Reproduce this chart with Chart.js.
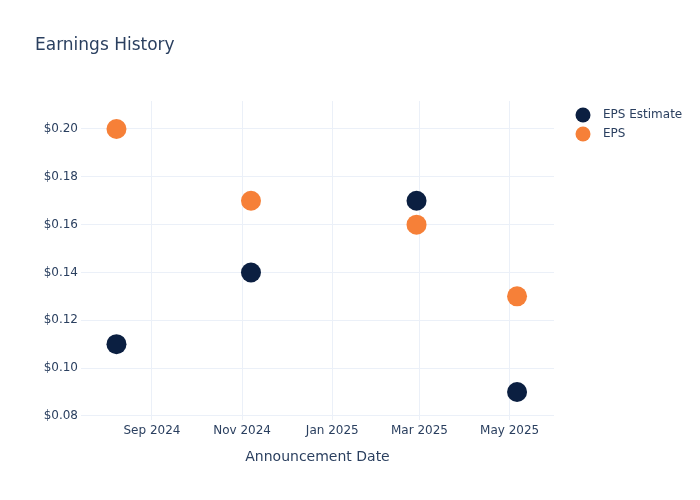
<!DOCTYPE html>
<html>
<head>
<meta charset="utf-8">
<script src="https://cdn.jsdelivr.net/npm/chart.js@4"></script>
<style>
  html, body { margin: 0; padding: 0; background: #fff; }
  #wrap { width: 700px; height: 500px; }
</style>
</head>
<body>
<div id="wrap"><canvas id="earnings-chart"></canvas></div>
<script>
// EARNINGS HISTORY (scatter)
const announceDates = ['2024-08-08', '2024-11-07', '2025-02-27', '2025-05-06'];
const epsEstimate = [0.11, 0.14, 0.17, 0.09];
const epsActual = [0.20, 0.17, 0.16, 0.13];
const xTickDates = ['2024-09-01', '2024-11-01', '2025-01-01', '2025-03-01', '2025-05-01'];
const yTickValues = [0.08, 0.10, 0.12, 0.14, 0.16, 0.18, 0.20];
const monthNames = ['Jan', 'Feb', 'Mar', 'Apr', 'May', 'Jun', 'Jul', 'Aug', 'Sep', 'Oct', 'Nov', 'Dec'];

const toTime = s => Date.parse(s + 'T00:00:00Z');
const textColor = '#2a3f5f';
const gridColor = '#ebf0f8';
const fontFamily = '"DejaVu Sans", Verdana, sans-serif';

const points = vals => announceDates.map((d, i) => ({ x: toTime(d), y: vals[i] }));

// plotly-like title + legend drawn on the canvas
const overlay = {
    id: 'overlay',
    afterDraw(chart) {
        const ctx = chart.ctx;
        ctx.save();
        ctx.fillStyle = textColor;
        ctx.font = '17px ' + fontFamily;
        ctx.textBaseline = 'middle';
        ctx.textAlign = 'left';
        ctx.fillText('Earnings History', 35, 45.5);

        ctx.font = '12px ' + fontFamily;
        chart.data.datasets.forEach((ds, i) => {
            const y = 115 + i * 19;
            ctx.beginPath();
            ctx.arc(583, y, 7.5, 0, Math.PI * 2);
            ctx.fillStyle = ds.backgroundColor;
            ctx.fill();
            ctx.fillStyle = textColor;
            ctx.fillText(ds.label, 603, y);
        });
        ctx.restore();
    }
};

const ctx = document.getElementById('earnings-chart').getContext('2d');

new Chart(ctx, {
    type: 'scatter',
    data: {
        datasets: [{
            label: 'EPS Estimate',
            data: points(epsEstimate),
            backgroundColor: '#0b1f41',
            borderColor: '#0b1f41',
            borderWidth: 0,
            pointRadius: 10,
            pointHoverRadius: 10
        }, {
            label: 'EPS',
            data: points(epsActual),
            backgroundColor: '#f68038',
            borderColor: '#f68038',
            borderWidth: 0,
            pointRadius: 10,
            pointHoverRadius: 10
        }]
    },
    options: {
        responsive: true,
        maintainAspectRatio: false,
        animation: false,
        layout: { padding: { left: 0, right: 146, top: 101, bottom: 0 } },
        plugins: {
            legend: { display: false },
            title: { display: false },
            tooltip: { enabled: false }
        },
        scales: {
            x: {
                type: 'linear',
                min: toTime('2024-07-15'),
                max: toTime('2025-05-31'),
                afterBuildTicks: axis => { axis.ticks = xTickDates.map(d => ({ value: toTime(d) })); },
                afterFit: axis => { axis.height = 80; },
                grid: { color: gridColor, drawTicks: false },
                border: { display: false },
                ticks: {
                    padding: 4,
                    color: textColor,
                    font: { family: fontFamily, size: 12 },
                    maxRotation: 0,
                    callback: v => {
                        const d = new Date(v);
                        return monthNames[d.getUTCMonth()] + ' ' + d.getUTCFullYear();
                    }
                },
                title: {
                    display: true,
                    text: 'Announcement Date',
                    color: textColor,
                    font: { family: fontFamily, size: 14 },
                    padding: { top: 0, bottom: 34 }
                }
            },
            y: {
                min: 0.0783,
                max: 0.2117,
                afterBuildTicks: axis => { axis.ticks = yTickValues.map(v => ({ value: v })); },
                afterFit: axis => { axis.width = 81; },
                grid: { color: gridColor, drawTicks: false },
                border: { display: false },
                ticks: {
                    padding: 3,
                    color: textColor,
                    font: { family: fontFamily, size: 12 },
                    callback: v => '$' + v.toFixed(2)
                }
            }
        }
    },
    plugins: [overlay]
});
</script>
</body>
</html>
